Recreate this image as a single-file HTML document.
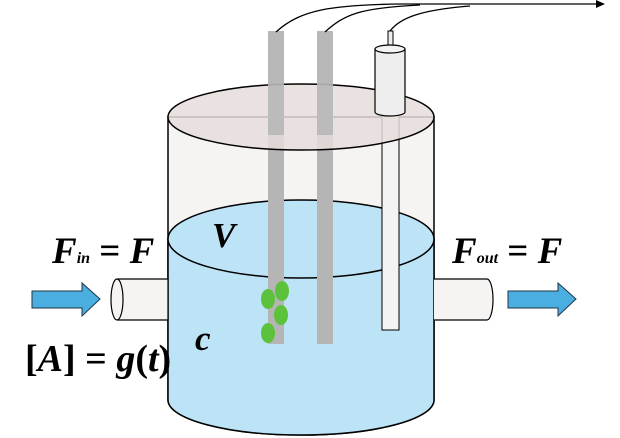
<!DOCTYPE html>
<html><head><style>body{margin:0;background:#fff}svg{display:block}</style></head><body>
<svg width="620" height="438" viewBox="0 0 620 438" xmlns="http://www.w3.org/2000/svg" font-family="'Liberation Serif',serif" font-weight="bold">
<path d="M168,117 L168,400 A133,35 0 0 0 434,400 L434,117 Z" fill="#f5f4f3" stroke="#000" stroke-width="1.5"/>
<path d="M168,239 L168,400 A133,35 0 0 0 434,400 L434,239 Z" fill="#bde3f6" stroke="#000" stroke-width="1.5"/>
<ellipse cx="301" cy="239" rx="133" ry="39" fill="#bde3f6" stroke="#000" stroke-width="1.5"/>
<path d="M117,279 L168,279 L168,320 L117,320" fill="#f5f4f3" stroke="#000" stroke-width="1.2"/>
<ellipse cx="117" cy="299.5" rx="6" ry="20.5" fill="#f5f4f3" stroke="#000" stroke-width="1.2"/>
<path d="M434,279 L487,279 A6,20.5 0 0 1 487,320 L434,320" fill="#f5f4f3" stroke="#000" stroke-width="1.2"/>
<path d="M32,291 L82,291 L82,283 L100,299 L82,316 L82,308 L32,308 Z" fill="#4aaee0" stroke="#234" stroke-width="1"/>
<path d="M508,291 L558,291 L558,283 L576,299 L558,316 L558,308 L508,308 Z" fill="#4aaee0" stroke="#234" stroke-width="1"/>
<rect x="268" y="31" width="16" height="313" fill="#b5b5b5"/>
<rect x="317" y="31" width="16" height="313" fill="#b5b5b5"/>
<rect x="382" y="114" width="17" height="216" fill="#f3f3f3" stroke="#000" stroke-width="1"/>
<ellipse cx="301" cy="117" rx="133" ry="33" fill="#e6dcdc" fill-opacity="0.85" stroke="#000" stroke-width="1.5"/>
<rect x="268" y="31" width="16" height="104" fill="#b8b8b8" opacity="0.9"/>
<rect x="317" y="31" width="16" height="104" fill="#b8b8b8" opacity="0.9"/>
<rect x="388" y="31" width="5" height="17" fill="#eee" stroke="#000"/>
<path d="M375,49 L375,112 A15,4 0 0 0 405,112 L405,49 Z" fill="#eee" stroke="#000" stroke-width="1.2"/>
<ellipse cx="390" cy="49" rx="15" ry="4" fill="#f3f3f3" stroke="#000" stroke-width="1.2"/>
<g fill="#5cc23c"><ellipse cx="268" cy="299" rx="7" ry="10"/><ellipse cx="282" cy="291" rx="7" ry="10"/><ellipse cx="281" cy="315" rx="7" ry="10"/><ellipse cx="268" cy="333" rx="7" ry="10"/></g>
<g fill="none" stroke="#000" stroke-width="1.3">
<path d="M276,32 C300,10 330,5 400,4 L600,4"/>
<path d="M325,32 C345,14 360,8 420,5"/>
<path d="M390,31 C400,18 420,10 470,6"/>
</g>
<path d="M605,4 L596,0 L596,8 Z" fill="#000"/>
<g font-style="italic" fill="#000">
<text x="52" y="263" font-size="37">F<tspan font-size="16">in</tspan><tspan font-style="normal"> = </tspan>F</text>
<text x="212" y="247" font-size="35">V</text>
<text x="452" y="263" font-size="37">F<tspan font-size="16">out</tspan><tspan font-style="normal"> = </tspan>F</text>
<text x="195" y="350" font-size="35">c</text>
<text x="25" y="371" font-size="38"><tspan font-style="normal">[</tspan>A<tspan font-style="normal">] = </tspan>g<tspan font-style="normal">(</tspan>t<tspan font-style="normal">)</tspan></text>
</g>
</svg>
</body></html>
